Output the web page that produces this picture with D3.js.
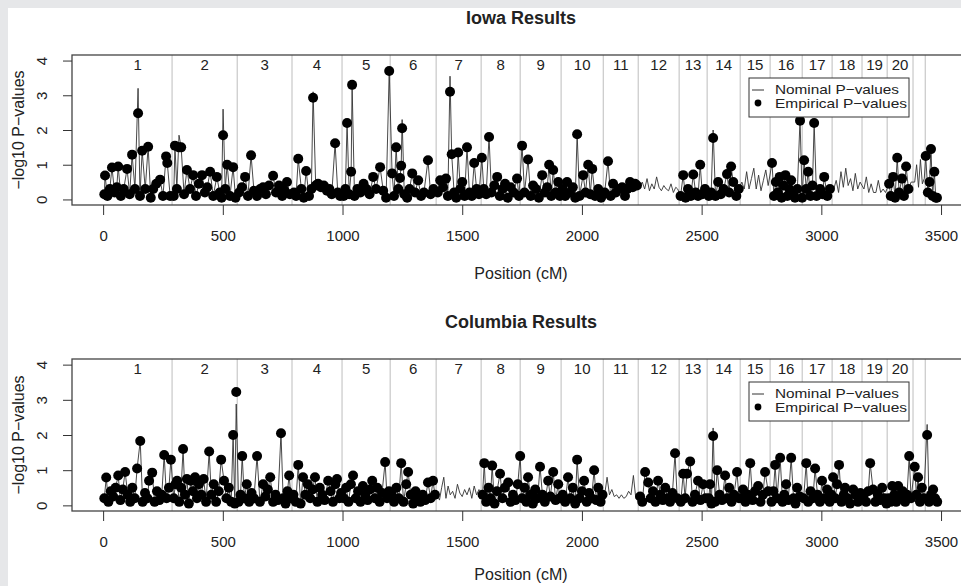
<!DOCTYPE html>
<html lang="en">
<head>
    <meta charset="UTF-8">
    <title>Iowa / Columbia Results</title>
    <script src="https://d3js.org/d3.v7.min.js"></script>
    <style>
        body { margin: 0; background: #e6e7e9; }
        text { font-family: "Liberation Sans", Arial, sans-serif; fill: #222; }
        .tick line { stroke: #333; }
        .tick text { font-size: 15px; }
    </style>
</head>
<body>
    <div id="chart"></div>
    <script>
        // chromosome boundaries (cM) and labels
        var chromBreaks = [288, 560, 789, 998, 1199, 1391, 1579, 1742, 1913, 2089, 2235, 2406, 2523, 2661, 2786, 2920, 3045, 3170, 3275, 3383, 3434];
        var chromLabels = ["1","2","3","4","5","6","7","8","9","10","11","12","13","14","15","16","17","18","19","20"];
        var xTicks = [0, 500, 1000, 1500, 2000, 2500, 3000, 3500];
        var yTicks = [0, 1, 2, 3, 4];

        // Iowa: marker position, nominal and empirical -log10 p
        var iowaPos = [
            5,8,18,28,37,48,57,63,74,86,100,111,121,133,146,154,163,176,188,199,209,222,238,250,263,268,280,
            295,300,308,317,326,338,350,363,376,388,400,413,425,435,447,460,475,487,495,501,510,518,530,543,553,
            568,580,593,605,618,630,643,656,668,680,693,710,722,735,748,758,768,780,
            797,806,815,828,838,848,860,870,877,888,898,910,922,935,945,955,969,980,990,
            1005,1012,1019,1028,1036,1040,1050,1062,1075,1088,1100,1113,1128,1140,1157,1170,1182,1195,
            1207,1215,1224,1233,1240,1245,1249,1258,1270,1280,1291,1303,1316,1328,1340,1357,1368,1380,
            1398,1408,1420,1432,1440,1449,1456,1466,1475,1483,1492,1500,1510,1520,1530,1540,1550,1560,1570,
            1582,1590,1600,1612,1622,1634,1646,1657,1668,1679,1690,1702,1715,1729,1737,
            1750,1760,1775,1786,1796,1808,1820,1834,1845,1855,1863,1872,1880,1890,1901,1908,
            1920,1930,1938,1950,1962,1972,1980,1990,2005,2015,2026,2035,2043,2055,2068,2080,
            2095,2109,2120,2130,2142,2155,2168,2180,2190,2201,2212,2222,2230,
            2242,2252,2262,2272,2282,2292,2302,2312,2322,2332,2342,2352,2362,2372,2382,2392,2400,
            2412,2423,2433,2443,2455,2465,2475,2485,2494,2503,2514,
            2530,2540,2548,2558,2569,2580,2592,2606,2615,2623,2632,2645,2655,
            2668,2678,2688,2698,2708,2718,2728,2738,2748,2758,2768,2778,
            2794,2802,2810,2818,2826,2834,2842,2850,2858,2866,2874,2882,2890,2900,2911,
            2920,2928,2937,2945,2955,2963,2970,2980,2995,3005,3012,3025,3036,
            3052,3062,3072,3082,3092,3102,3112,3122,3132,3142,3152,3162,
            3178,3188,3198,3208,3218,3228,3238,3248,3258,3268,
            3283,3290,3300,3308,3317,3325,3337,3345,3354,3364,3375,
            3390,3398,3406,3414,3422,3430,
            3436,3445,3452,3458,3465,3472,3478,3483
        ];
        var iowaNom = [
            0.15,0.69,0.1,0.3,0.92,0.2,0.35,0.95,0.1,0.3,0.88,0.15,1.29,0.3,3.2,0.1,1.4,0.3,1.52,0.05,0.3,0.45,0.57,0.1,1.24,1.05,0.1,
            0.1,1.55,0.3,1.85,1.5,0.15,0.85,0.3,0.7,0.1,0.45,0.7,0.2,0.35,0.8,0.1,0.65,0.2,0.05,2.6,0.3,1.0,0.1,0.93,0.05,
            0.2,0.35,0.65,0.1,1.27,0.25,0.1,0.3,0.35,0.15,0.4,0.68,0.2,0.4,0.1,0.25,0.5,0.15,
            0.2,0.1,1.17,0.3,0.05,0.82,0.1,0.3,3.1,0.4,0.45,0.35,0.4,0.25,0.3,0.15,1.62,0.2,0.1,
            0.1,0.3,2.2,0.15,0.8,3.3,0.1,0.3,0.2,0.45,0.3,0.15,0.65,0.3,0.93,0.25,0.05,3.7,
            0.75,0.1,1.5,0.3,0.62,0.97,2.3,0.15,0.05,0.3,0.75,0.2,0.55,0.1,0.2,1.13,0.15,0.3,
            0.2,0.55,0.35,0.6,0.1,3.55,1.3,0.2,0.05,1.35,0.3,0.5,0.1,1.5,0.2,0.1,1.05,0.3,0.15,
            1.2,0.3,0.15,1.8,0.2,0.4,0.65,0.1,0.3,0.45,0.05,0.35,0.2,0.6,0.1,
            1.55,0.2,1.15,0.1,0.4,0.3,0.05,0.7,0.2,0.35,1.0,0.1,0.85,0.2,0.5,0.1,
            0.3,0.1,0.5,0.2,0.35,0.05,1.88,0.1,0.7,0.2,1.0,0.15,0.88,0.1,0.3,0.05,
            0.2,1.1,0.1,0.45,0.2,0.3,0.35,0.1,0.3,0.5,0.35,0.45,0.4,
            0.35,0.5,0.3,0.6,0.25,0.45,0.3,0.65,0.35,0.25,0.4,0.3,0.25,0.45,0.2,0.35,0.3,
            0.1,0.7,0.05,0.3,0.1,0.72,0.2,0.1,1.0,0.15,0.3,
            0.1,0.2,2.0,0.1,0.5,0.15,0.3,0.73,0.2,0.95,0.5,0.1,0.3,
            0.5,0.3,0.8,0.3,0.6,0.9,0.3,0.7,0.25,0.55,0.85,0.4,
            1.05,0.1,0.5,0.2,0.65,0.05,0.4,0.7,0.1,0.3,0.55,0.15,0.05,0.3,2.3,
            0.05,1.13,0.3,0.8,0.1,0.4,2.2,0.1,0.3,0.15,0.65,0.1,0.3,
            0.3,0.55,0.2,0.8,0.35,0.9,0.4,0.6,0.25,0.75,0.3,0.5,
            0.3,0.65,0.2,0.45,0.2,0.2,0.55,0.2,0.3,0.2,
            0.45,0.1,0.65,0.05,1.2,0.2,0.6,0.1,0.95,0.3,0.5,
            0.5,1.0,0.35,1.15,0.45,0.6,
            1.25,0.2,0.5,1.45,0.1,0.8,0.05,0.05
        ];
        var iowaEmp = [
            0.15,0.69,0.1,0.3,0.92,0.2,0.35,0.95,0.1,0.3,0.88,0.15,1.29,0.3,2.48,0.1,1.4,0.3,1.52,0.05,0.3,0.45,0.57,0.1,1.24,1.05,0.1,
            0.1,1.55,0.3,1.5,1.5,0.15,0.85,0.3,0.7,0.1,0.45,0.7,0.2,0.35,0.8,0.1,0.65,0.2,0.05,1.85,0.3,1.0,0.1,0.93,0.05,
            0.2,0.35,0.65,0.1,1.27,0.25,0.1,0.3,0.35,0.15,0.4,0.68,0.2,0.4,0.1,0.25,0.5,0.15,
            0.2,0.1,1.17,0.3,0.05,0.82,0.1,0.3,2.93,0.4,0.45,0.35,0.4,0.25,0.3,0.15,1.62,0.2,0.1,
            0.1,0.3,2.2,0.15,0.8,3.3,0.1,0.3,0.2,0.45,0.3,0.15,0.65,0.3,0.93,0.25,0.05,3.7,
            0.75,0.1,1.5,0.3,0.62,0.97,2.05,0.15,0.05,0.3,0.75,0.2,0.55,0.1,0.2,1.13,0.15,0.3,
            0.2,0.55,0.35,0.6,0.1,3.1,1.3,0.2,0.05,1.35,0.3,0.5,0.1,1.5,0.2,0.1,1.05,0.3,0.15,
            1.2,0.3,0.15,1.8,0.2,0.4,0.65,0.1,0.3,0.45,0.05,0.35,0.2,0.6,0.1,
            1.55,0.2,1.15,0.1,0.4,0.3,0.05,0.7,0.2,0.35,1.0,0.1,0.85,0.2,0.5,0.1,
            0.3,0.1,0.5,0.2,0.35,0.05,1.88,0.1,0.7,0.2,1.0,0.15,0.88,0.1,0.3,0.05,
            0.2,1.1,0.1,0.45,0.2,0.3,0.35,0.1,0.3,0.5,0.35,0.45,0.4,
            null,null,null,null,null,null,null,null,null,null,null,null,null,null,null,null,null,
            0.1,0.7,0.05,0.3,0.1,0.72,0.2,0.1,1.0,0.15,0.3,
            0.1,0.2,1.77,0.1,0.5,0.15,0.3,0.73,0.2,0.95,0.5,0.1,0.3,
            null,null,null,null,null,null,null,null,null,null,null,null,
            1.05,0.1,0.5,0.2,0.65,0.05,0.4,0.7,0.1,0.3,0.55,0.15,0.05,0.3,2.27,
            0.05,1.13,0.3,0.8,0.1,0.4,2.2,0.1,0.3,0.15,0.65,0.1,0.3,
            null,null,null,null,null,null,null,null,null,null,null,null,
            null,null,null,null,null,null,null,null,null,null,
            0.45,0.1,0.65,0.05,1.2,0.2,0.6,0.1,0.95,0.3,null,
            null,null,null,null,null,null,
            1.25,0.2,0.5,1.45,0.1,0.8,0.05,0.05
        ];

        // Columbia
        var colPos = [
            5,13,22,32,42,52,63,72,82,92,103,113,122,132,142,155,165,175,185,192,205,215,225,235,245,255,265,275,283,
            295,302,309,318,326,334,342,350,358,366,375,384,392,400,410,420,430,443,452,462,472,483,493,505,515,525,535,543,550,556,
            566,574,581,590,600,610,620,630,643,655,668,678,688,698,710,720,730,743,752,762,770,777,785,
            795,805,815,825,835,845,855,865,875,885,895,905,915,925,940,950,960,970,977,987,994,
            1005,1015,1025,1035,1044,1055,1065,1075,1085,1095,1105,1115,1124,1135,1145,1155,1165,1178,1186,1194,
            1205,1215,1225,1235,1245,1255,1266,1274,1285,1295,1305,1315,1325,1335,1345,1357,1368,1378,1386,
            1396,1405,1414,1423,1432,1441,1450,1460,1470,1480,1490,1500,1510,1520,1530,1540,1550,1560,1570,
            1585,1592,1600,1610,1618,1625,1635,1645,1658,1668,1678,1692,1702,1712,1722,1732,1742,
            1750,1760,1768,1775,1785,1795,1805,1815,1825,1835,1845,1859,1868,1880,1890,1901,1908,
            1920,1930,1942,1952,1962,1972,1980,1990,2000,2009,2020,2030,2040,2051,2060,2068,2078,2086,
            2095,2105,2115,2125,2135,2145,2155,2165,2175,2185,2195,2205,2215,2225,
            2243,2252,2264,2277,2287,2297,2307,2318,2328,2338,2348,2358,2368,2378,2389,2398,
            2413,2423,2431,2439,2452,2462,2472,2485,2495,2506,2516,
            2530,2535,2541,2548,2556,2565,2575,2585,2598,2607,2615,2625,2635,2648,2656,
            2666,2673,2683,2693,2703,2713,2723,2736,2746,2756,2765,2778,
            2792,2800,2807,2815,2828,2838,2845,2853,2862,2874,2884,2892,2899,2910,
            2926,2937,2945,2955,2965,2974,2984,2994,3003,3013,3024,3035,3042,
            3049,3058,3066,3074,3084,3094,3099,3110,3120,3133,3143,3153,3163,
            3177,3187,3196,3204,3216,3226,3236,3246,3254,3264,3272,
            3282,3290,3296,3305,3313,3321,3330,3340,3350,3358,3367,3375,
            3390,3397,3404,3412,3420,3428,
            3442,3450,3458,3467,3475,3484
        ];
        var colNom = [
            0.2,0.79,0.1,0.4,0.25,0.5,0.85,0.15,0.45,0.95,0.3,0.1,0.5,0.2,1.05,1.83,0.1,0.35,0.2,0.7,0.93,0.1,0.4,0.15,0.3,1.43,0.2,0.5,1.3,
            0.2,0.6,0.7,0.1,0.5,1.6,0.3,0.75,0.05,0.7,0.4,0.8,0.2,0.6,0.3,0.75,0.1,1.53,0.3,0.6,0.1,0.4,1.3,0.7,0.2,0.5,0.1,2.0,0.05,2.88,
            0.1,0.3,1.4,0.2,0.6,0.1,0.35,0.2,1.4,0.1,0.6,0.25,0.45,0.8,0.1,0.3,0.15,2.05,0.2,0.05,0.4,0.85,0.2,
            0.3,0.1,1.15,0.05,0.8,0.3,0.6,0.2,0.45,0.8,0.1,0.5,0.3,0.15,0.7,0.4,0.1,0.6,0.75,0.2,0.35,
            0.2,0.5,0.1,0.6,0.85,0.2,0.4,0.1,0.55,0.3,0.15,0.45,0.7,0.2,0.5,0.1,0.35,1.23,0.2,0.4,
            0.3,0.1,0.5,0.2,1.2,0.1,0.6,0.95,0.3,0.05,0.4,0.2,0.1,0.3,0.15,0.65,0.2,0.7,0.3,
            0.3,0.15,0.5,0.8,0.2,0.55,0.3,0.4,0.2,0.6,0.35,0.25,0.45,0.3,0.5,0.2,0.55,0.3,0.45,
            0.3,1.2,0.1,0.5,0.2,1.13,0.05,0.4,0.9,0.2,0.5,0.65,0.1,0.3,0.15,0.6,1.4,
            0.2,0.5,0.1,0.8,0.3,0.05,0.45,0.2,1.1,0.3,0.1,0.7,0.25,0.95,0.15,0.6,0.2,
            0.3,0.1,0.8,0.2,0.5,0.05,1.3,0.2,0.4,0.7,0.1,0.35,0.2,1.0,0.15,0.5,0.1,0.3,
            0.3,0.8,0.3,0.45,0.25,0.3,0.2,0.3,0.2,0.25,0.4,0.3,0.85,0.2,
            0.25,0.1,0.95,0.65,0.2,0.4,0.1,0.7,0.3,0.15,0.5,0.2,0.1,0.35,1.48,0.2,
            0.1,0.9,0.2,0.9,1.25,0.1,0.3,0.7,0.15,0.6,0.2,
            0.2,0.6,0.05,2.2,0.1,1.0,0.3,0.15,0.85,0.2,0.5,0.1,0.3,0.95,0.2,
            0.2,0.45,0.1,0.3,1.2,0.15,0.4,0.55,0.1,0.3,0.95,0.4,
            0.1,0.4,1.15,0.2,1.35,0.1,0.3,0.6,0.15,1.35,0.2,0.05,0.5,0.25,
            0.2,1.2,0.1,0.4,0.2,1.05,0.3,0.1,0.7,0.2,0.45,0.1,0.3,
            0.8,0.2,0.6,1.15,0.1,0.3,0.5,0.2,0.05,0.45,0.3,0.1,0.35,
            0.3,0.1,0.4,1.2,0.45,0.1,0.3,0.15,0.5,0.2,0.05,
            0.2,0.1,0.55,0.3,0.1,0.55,0.2,0.4,0.1,0.3,1.4,0.2,
            1.1,0.3,0.8,0.1,0.5,0.2,
            2.3,0.1,0.3,0.45,0.2,0.1
        ];
        var colEmp = [
            0.2,0.79,0.1,0.4,0.25,0.5,0.85,0.15,0.45,0.95,0.3,0.1,0.5,0.2,1.05,1.83,0.1,0.35,0.2,0.7,0.93,0.1,0.4,0.15,0.3,1.43,0.2,0.5,1.3,
            0.2,0.6,0.7,0.1,0.5,1.6,0.3,0.75,0.05,0.7,0.4,0.8,0.2,0.6,0.3,0.75,0.1,1.53,0.3,0.6,0.1,0.4,1.3,0.7,0.2,0.5,0.1,2.0,0.05,3.22,
            0.1,0.3,1.4,0.2,0.6,0.1,0.35,0.2,1.4,0.1,0.6,0.25,0.45,0.8,0.1,0.3,0.15,2.05,0.2,0.05,0.4,0.85,0.2,
            0.3,0.1,1.15,0.05,0.8,0.3,0.6,0.2,0.45,0.8,0.1,0.5,0.3,0.15,0.7,0.4,0.1,0.6,0.75,0.2,0.35,
            0.2,0.5,0.1,0.6,0.85,0.2,0.4,0.1,0.55,0.3,0.15,0.45,0.7,0.2,0.5,0.1,0.35,1.23,0.2,0.4,
            0.3,0.1,0.5,0.2,1.2,0.1,0.6,0.95,0.3,0.05,0.4,0.2,0.1,0.3,0.15,0.65,0.2,0.7,0.3,
            null,null,null,null,null,null,null,null,null,null,null,null,null,null,null,null,null,null,null,
            0.3,1.2,0.1,0.5,0.2,1.13,0.05,0.4,0.9,0.2,0.5,0.65,0.1,0.3,0.15,0.6,1.4,
            0.2,0.5,0.1,0.8,0.3,0.05,0.45,0.2,1.1,0.3,0.1,0.7,0.25,0.95,0.15,0.6,0.2,
            0.3,0.1,0.8,0.2,0.5,0.05,1.3,0.2,0.4,0.7,0.1,0.35,0.2,1.0,0.15,0.5,0.1,0.3,
            null,null,null,null,null,null,null,null,null,null,null,null,null,null,
            0.25,0.1,0.95,0.65,0.2,0.4,0.1,0.7,0.3,0.15,0.5,0.2,0.1,0.35,1.48,0.2,
            0.1,0.9,0.2,0.9,1.25,0.1,0.3,0.7,0.15,0.6,0.2,
            0.2,0.6,0.05,1.97,0.1,1.0,0.3,0.15,0.85,0.2,0.5,0.1,0.3,0.95,0.2,
            0.2,0.45,0.1,0.3,1.2,0.15,0.4,0.55,0.1,0.3,0.95,0.4,
            0.1,0.4,1.15,0.2,1.35,0.1,0.3,0.6,0.15,1.35,0.2,0.05,0.5,0.25,
            0.2,1.2,0.1,0.4,0.2,1.05,0.3,0.1,0.7,0.2,0.45,0.1,0.3,
            0.8,0.2,0.6,1.15,0.1,0.3,0.5,0.2,0.05,0.45,0.3,0.1,0.35,
            0.3,0.1,0.4,1.2,0.45,0.1,0.3,0.15,0.5,0.2,0.05,
            0.2,0.1,0.55,0.3,0.1,0.55,0.2,0.4,0.1,0.3,1.4,0.2,
            1.1,0.3,0.8,0.1,0.5,0.2,
            2.0,0.1,0.3,0.45,0.2,0.1
        ];

        var W = 961, H = 586;
        var svg = d3.select("#chart").append("svg")
            .attr("width", W).attr("height", H);

        svg.append("rect")
            .attr("x", 8).attr("y", 8)
            .attr("width", W - 8).attr("height", H - 8)
            .attr("fill", "white");

        var x = d3.scaleLinear().domain([-130, 3621]).range([72, 970]);

        function drawPanel(title, pos, nom, emp, top, bottom, xlabY) {
            var y = d3.scaleLinear().domain([-0.16, 4.16]).range([bottom, top]);
            var g = svg.append("g");

            var clipId = "clip" + top;
            g.append("clipPath").attr("id", clipId)
                .append("rect").attr("x", 72).attr("y", top)
                .attr("width", 900).attr("height", bottom - top);

            // chromosome separators
            g.selectAll(".sep")
                .data(chromBreaks).enter()
                .append("line")
                .attr("x1", function(d) { return x(d); })
                .attr("x2", function(d) { return x(d); })
                .attr("y1", top).attr("y2", bottom)
                .attr("stroke", "#bdbdbd")
                .attr("stroke-width", 1);

            var starts = [0].concat(chromBreaks);
            g.selectAll(".chr")
                .data(chromLabels).enter()
                .append("text")
                .attr("x", function(d, i) { return (x(starts[i]) + x(starts[i + 1])) / 2; })
                .attr("y", top + 10)
                .attr("dy", "0.35em")
                .attr("text-anchor", "middle")
                .style("font-size", "15px")
                .text(function(d) { return d; });

            var pts = pos.map(function(p, i) { return {pos: p, nom: nom[i], emp: emp[i]}; });

            var plot = g.append("g").attr("clip-path", "url(#" + clipId + ")");

            plot.append("path")
                .datum(pts)
                .attr("fill", "none")
                .attr("stroke", "#333")
                .attr("stroke-width", 0.9)
                .attr("d", d3.line()
                    .x(function(d) { return x(d.pos); })
                    .y(function(d) { return y(d.nom); }));

            plot.selectAll(".dot")
                .data(pts.filter(function(d) { return d.emp !== null; }))
                .enter().append("circle")
                .attr("cx", function(d) { return x(d.pos); })
                .attr("cy", function(d) { return y(d.emp); })
                .attr("r", 5)
                .attr("fill", "black");

            // box
            g.append("rect")
                .attr("x", 72).attr("y", top)
                .attr("width", 900).attr("height", bottom - top)
                .attr("fill", "none")
                .attr("stroke", "#444")
                .attr("stroke-width", 1.3);

            // axes
            var xa = g.append("g")
                .attr("transform", "translate(0," + bottom + ")")
                .call(d3.axisBottom(x).tickValues(xTicks).tickSize(10).tickPadding(15)
                    .tickFormat(d3.format("d")));
            xa.select(".domain").remove();

            var ya = g.append("g")
                .attr("transform", "translate(72,0)")
                .call(d3.axisLeft(y).tickValues(yTicks).tickSize(9).tickFormat(d3.format("d")));
            ya.select(".domain").remove();
            ya.selectAll(".tick text")
                .attr("transform", "rotate(-90)")
                .attr("x", 0).attr("dx", 0)
                .attr("y", -30).attr("dy", "0.35em")
                .attr("text-anchor", "middle");

            g.append("text")
                .attr("transform", "translate(18," + ((top + bottom) / 2) + ") rotate(-90)")
                .attr("dy", "0.35em")
                .attr("text-anchor", "middle")
                .style("font-size", "16px")
                .text("\u2212log10 P\u2212values");

            g.append("text")
                .attr("x", 521).attr("y", xlabY)
                .attr("dy", "0.35em")
                .attr("text-anchor", "middle")
                .style("font-size", "16px")
                .text("Position (cM)");

            g.append("text")
                .attr("x", 521).attr("y", top - 37)
                .attr("dy", "0.35em")
                .attr("text-anchor", "middle")
                .style("font-size", "18px")
                .style("font-weight", "bold")
                .text(title);

            // legend
            var lx = 749, ly = top + 23;
            var lg = g.append("g");
            lg.append("rect")
                .attr("x", lx).attr("y", ly)
                .attr("width", 160).attr("height", 39)
                .attr("fill", "white")
                .attr("stroke", "#333")
                .attr("stroke-width", 1);
            lg.append("line")
                .attr("x1", lx + 3).attr("x2", lx + 15)
                .attr("y1", ly + 12).attr("y2", ly + 12)
                .attr("stroke", "#333");
            lg.append("circle")
                .attr("cx", lx + 9).attr("cy", ly + 25).attr("r", 3.4)
                .attr("fill", "black");
            lg.append("text")
                .attr("x", lx + 26).attr("y", ly + 11.5)
                .attr("dy", "0.35em")
                .attr("textLength", 124)
                .attr("lengthAdjust", "spacingAndGlyphs")
                .style("font-size", "13px")
                .text("Nominal P\u2212values");
            lg.append("text")
                .attr("x", lx + 26).attr("y", ly + 25.5)
                .attr("dy", "0.35em")
                .attr("textLength", 132)
                .attr("lengthAdjust", "spacingAndGlyphs")
                .style("font-size", "13px")
                .text("Empirical P\u2212values");
        }

        drawPanel("Iowa Results", iowaPos, iowaNom, iowaEmp, 55, 205, 273);
        drawPanel("Columbia Results", colPos, colNom, colEmp, 359, 511, 574);
    </script>
</body>
</html>
